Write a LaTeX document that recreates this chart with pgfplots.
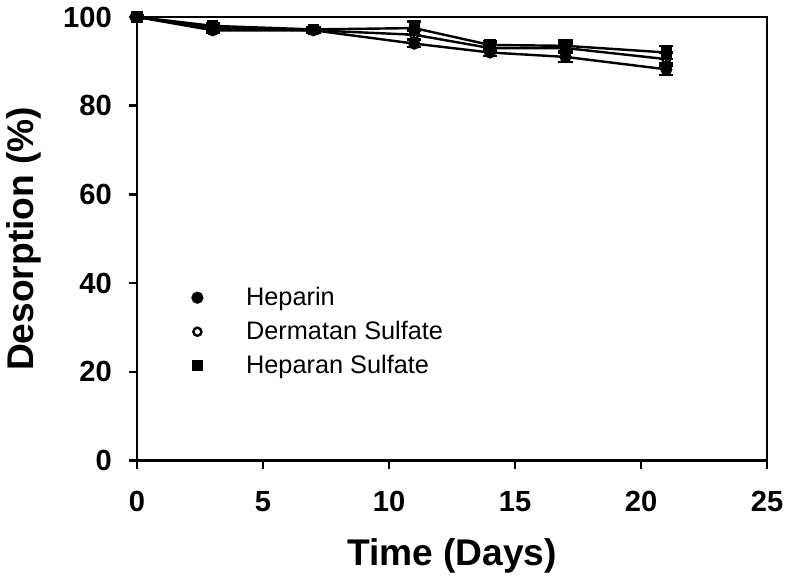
\documentclass[border=0pt]{standalone}
\usepackage{fontspec}
\setmainfont{Liberation Sans}
\usepackage{pgfplots}
\pgfplotsset{compat=1.18}

\pgfplotsset{
  markonly/.style={legend image code/.code={\draw plot coordinates {(0.15cm,0cm)}; \path[draw=none] (0,0) -- (0.95cm,0);}},
}

\begin{document}
\begin{tikzpicture}
\begin{axis}[
  width=312.5bp, height=220bp, scale only axis,
  xmin=0, xmax=25, ymin=0, ymax=100,
  xtick={0,5,10,15,20,25}, ytick={0,20,40,60,80,100},
  xtick pos=bottom, ytick pos=left,
  tick align=outside, major tick length=4bp,
  axis line style={line width=1.3bp},
  every tick/.style={line width=1.3bp, black},
  /pgf/number format/assume math mode=true,
  tick label style={font=\bfseries\fontsize{14.5}{14.5}\selectfont},
  xticklabel style={yshift=-7bp, text height=10.5bp, text depth=0bp},
  yticklabel style={xshift=-5bp},
  xlabel={Time (Days)}, ylabel={Desorption (\%)},
  label style={font=\bfseries\fontsize{18.5}{18.5}\selectfont},
  xlabel style={yshift=-7bp},
  ylabel style={yshift=4bp},
  clip=false,
  legend style={draw=none, fill=none, at={(axis cs:1.8,40.8)}, anchor=north west,
    font=\fontsize{12.6}{12.6}\selectfont, row sep=3.3bp,
    nodes={inner sep=1.5bp}},
  legend cell align=left,
]
\addplot[black, line width=1.2bp, mark=*, mark size=2.4bp, mark options={fill=black}, markonly,
  error bars/.cd, y dir=both, y explicit,
  error bar style={line width=1.2bp},
  error mark options={rotate=90, mark size=3.5bp, line width=1.2bp}]
  coordinates {(0,100) +- (0,0.3) (3,97.0) +- (0,0.5) (7,97.0) +- (0,0.5) (11,94.0) +- (0,0.8)
               (14,92.0) +- (0,0.8) (17,91.0) +- (0,1.2) (21,88.2) +- (0,1.3)};
\addplot[black, line width=1.2bp, mark=o, mark size=2.0bp, mark options={fill=white}, markonly,
  error bars/.cd, y dir=both, y explicit,
  error bar style={line width=1.2bp},
  error mark options={rotate=90, mark size=3.5bp, line width=1.2bp}]
  coordinates {(0,100) +- (0,0.3) (3,97.5) +- (0,0.5) (7,97.0) +- (0,0.5) (11,96.0) +- (0,1.0)
               (14,93.0) +- (0,0.8) (17,93.0) +- (0,1.0) (21,90.5) +- (0,1.5)};
\addplot[black, line width=1.2bp, mark=square*, mark size=2.2bp, mark options={fill=black}, markonly,
  error bars/.cd, y dir=both, y explicit,
  error bar style={line width=1.2bp},
  error mark options={rotate=90, mark size=3.5bp, line width=1.2bp}]
  coordinates {(0,100) +- (0,0.3) (3,98.0) +- (0,0.5) (7,97.2) +- (0,0.5) (11,97.5) +- (0,1.5)
               (14,93.7) +- (0,0.8) (17,93.5) +- (0,1.2) (21,92.0) +- (0,1.5)};
\legend{Heparin, Dermatan Sulfate, Heparan Sulfate}
\end{axis}
\end{tikzpicture}
\end{document}
